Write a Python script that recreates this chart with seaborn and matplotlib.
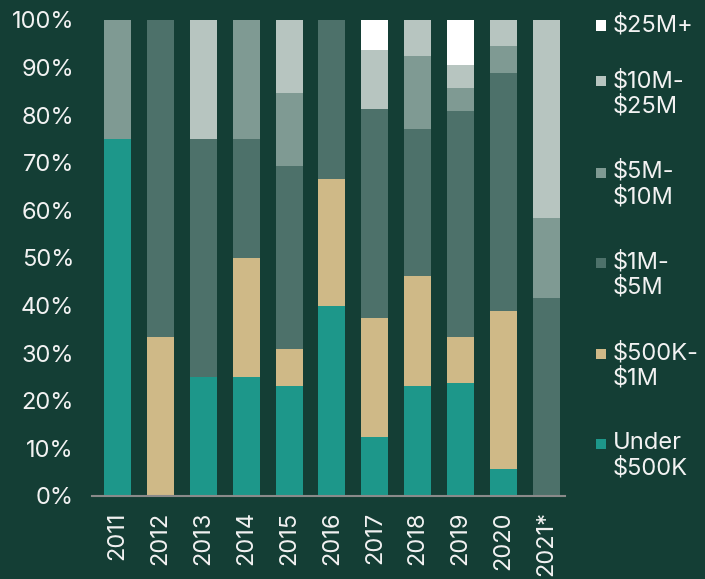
import numpy as np
import pandas as pd
import matplotlib.pyplot as plt
import seaborn as sns
from matplotlib.patches import Rectangle

# share of deals per size band, percent of each year
years = ["2011", "2012", "2013", "2014", "2015", "2016", "2017", "2018", "2019", "2020", "2021*"]
under_500k = [75, 0, 25, 25, 23.1, 40, 12.5, 23.1, 23.8, 5.6, 0]
k500_1m = [0, 33.3, 0, 25, 7.7, 26.7, 25, 23.1, 9.5, 33.3, 0]
m1_5m = [0, 66.7, 50, 25, 38.5, 33.3, 43.75, 30.8, 47.6, 50, 41.6]
m5_10m = [25, 0, 0, 25, 15.4, 0, 0, 15.4, 4.8, 5.6, 16.7]
m10_25m = [0, 0, 25, 0, 15.3, 0, 12.5, 7.6, 4.8, 5.5, 41.7]
m25_plus = [0, 0, 0, 0, 0, 0, 6.25, 0, 9.5, 0, 0]

bands = ["$25M+", "$10M-$25M", "$5M-$10M", "$1M-$5M", "$500K-$1M", "Under $500K"]
legend_labels = ["\\$25M+", "\\$10M-\n\\$25M", "\\$5M-\n\\$10M", "\\$1M-\n\\$5M", "\\$500K-\n\\$1M", "Under\n\\$500K"]
colors = ["#ffffff", "#b7c5c0", "#7f9a93", "#4d716a", "#cfb987", "#1d978a"]

df = pd.DataFrame({
    "year": years,
    "$25M+": m25_plus,
    "$10M-$25M": m10_25m,
    "$5M-$10M": m5_10m,
    "$1M-$5M": m1_5m,
    "$500K-$1M": k500_1m,
    "Under $500K": under_500k,
})
long_df = df.melt(id_vars="year", var_name="band", value_name="pct")

bg = "#143e35"
txt = "#f2f2f2"

sns.set_style("white")
plt.rcParams["font.family"] = ["Inter", "DejaVu Sans"]

fig = plt.figure(figsize=(7.05, 5.79), dpi=100, facecolor=bg)
W, H = 705, 579
ax = fig.add_axes([92 / W, 1 - 496 / H, (565 - 92) / W, (496 - 20) / H])
ax.set_facecolor(bg)

sns.histplot(data=long_df, x="year", weights="pct", hue="band", hue_order=bands,
             multiple="stack", discrete=True, shrink=0.63, palette=colors,
             alpha=1, linewidth=0, legend=False, ax=ax)

ax.set_ylim(0, 100)
ax.set_xlim(-0.6, 10.44)
ax.set_yticks(range(0, 101, 10), [f"{v}%" for v in range(0, 101, 10)])
ax.set_xticks(range(len(years)), years, rotation=90)
ax.tick_params(length=0, pad=13, labelsize=17, colors=txt)
ax.tick_params(axis="x", pad=11)
ax.set_xlabel("")
ax.set_ylabel("")
for s in ["top", "right", "left"]:
    ax.spines[s].set_visible(False)
ax.spines["bottom"].set_color("#8a8a8a")
ax.spines["bottom"].set_linewidth(1.5)

# legend, drawn by hand so the square sits on the first line
cap_tops = [16, 72, 163, 253.5, 344, 434.5]
for lab, col, yt in zip(legend_labels, colors, cap_tops):
    fig.patches.append(Rectangle((596 / W, 1 - (yt + 14.5) / H), 10 / W, 10 / H,
                                 transform=fig.transFigure, facecolor=col, edgecolor="none"))
    fig.text(613 / W, 1 - (yt - 2.5) / H, lab, color=txt, fontsize=17, va="top", ha="left",
             linespacing=1.15)

fig.savefig("out.png", dpi=100, facecolor=bg)
